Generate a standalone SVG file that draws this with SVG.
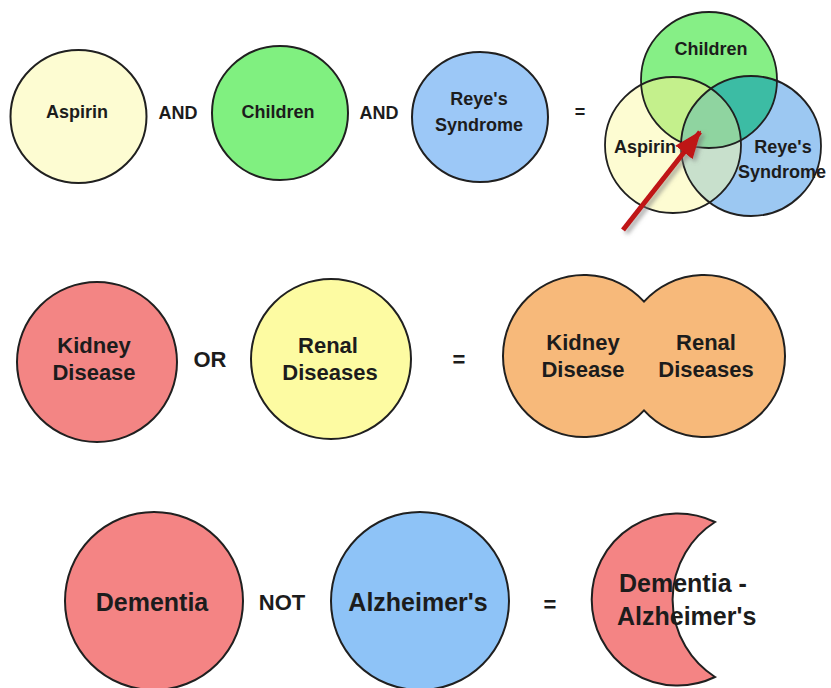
<svg xmlns="http://www.w3.org/2000/svg" width="831" height="688" viewBox="0 0 831 688">
<style>
  .lbl { font-family: "Liberation Sans", Arial, sans-serif; font-weight: bold; fill: #1c1c1c; text-anchor: middle; }
  .op { font-family: "Liberation Sans", Arial, sans-serif; font-weight: bold; fill: #1c1c1c; text-anchor: middle; }
  .ring { stroke: #202020; stroke-width: 2; }
  .edge { fill: none; stroke: #202020; stroke-width: 1.8; }
</style>
<defs>
  <clipPath id="clipA"><circle cx="673" cy="145" r="68"/></clipPath>
  <clipPath id="clipC"><circle cx="709" cy="80" r="68"/></clipPath>
  <marker id="redHead" markerUnits="userSpaceOnUse" markerWidth="30" markerHeight="24" refX="26" refY="11" orient="auto">
    <path d="M0,0 L28,11 L0,22 Z" fill="#bf1219"/>
  </marker>
  <filter id="shadow" x="-20%" y="-20%" width="140%" height="140%">
    <feDropShadow dx="3" dy="3" stdDeviation="2" flood-color="#777" flood-opacity="0.6"/>
  </filter>
</defs>
<rect width="831" height="688" fill="#ffffff"/>

<!-- Row 1 -->
<g id="aspirin">
  <ellipse cx="78.5" cy="116.5" rx="68" ry="66.5" fill="#fdfcd2" class="ring"/>
  <text x="77" y="118" class="lbl" font-size="18">Aspirin</text>
</g>
<g id="and1"><text x="178" y="119" class="op" font-size="18">AND</text></g>
<g id="children">
  <ellipse cx="280" cy="113" rx="68" ry="67" fill="#80f080" class="ring"/>
  <text x="278" y="118" class="lbl" font-size="18">Children</text>
</g>
<g id="and2"><text x="379" y="119" class="op" font-size="18">AND</text></g>
<g id="reyes">
  <ellipse cx="480" cy="117" rx="68" ry="65" fill="#9cc8f7" class="ring"/>
  <text x="479" y="105" class="lbl" font-size="18">Reye's</text>
  <text x="479" y="131" class="lbl" font-size="18">Syndrome</text>
</g>
<g id="eq1"><text x="580" y="118" class="op" font-size="18">=</text></g>

<g id="venn-and">
  <circle cx="673" cy="145" r="68" fill="#fdfcd2"/>
  <circle cx="751" cy="146" r="70" fill="#9cc8f2"/>
  <circle cx="709" cy="80" r="68" fill="#86ef86"/>
  <circle cx="709" cy="80" r="68" fill="#c4f08c" clip-path="url(#clipA)"/>
  <circle cx="751" cy="146" r="70" fill="#c8e0cc" clip-path="url(#clipA)"/>
  <circle cx="751" cy="146" r="70" fill="#3cbca4" clip-path="url(#clipC)"/>
  <g clip-path="url(#clipA)">
    <circle cx="751" cy="146" r="70" fill="#8fd4a0" clip-path="url(#clipC)"/>
  </g>
  <circle cx="673" cy="145" r="68" class="edge"/>
  <circle cx="751" cy="146" r="70" class="edge"/>
  <circle cx="709" cy="80" r="68" class="edge"/>
  <text x="711" y="55" class="lbl" font-size="18">Children</text>
  <text x="645" y="153" class="lbl" font-size="18">Aspirin</text>
  <text x="783" y="153" class="lbl" font-size="18">Reye's</text>
  <text x="782" y="178" class="lbl" font-size="18">Syndrome</text>
</g>

<!-- Row 2 -->
<g id="kidney">
  <circle cx="97" cy="362" r="80" fill="#f38584" class="ring"/>
  <text x="94" y="353" class="lbl" font-size="22">Kidney</text>
  <text x="94" y="380" class="lbl" font-size="22">Disease</text>
</g>
<g id="or"><text x="210" y="367" class="op" font-size="22">OR</text></g>
<g id="renal">
  <circle cx="331" cy="359" r="80" fill="#fdfba2" class="ring"/>
  <text x="328" y="353" class="lbl" font-size="22">Renal</text>
  <text x="330" y="380" class="lbl" font-size="22">Diseases</text>
</g>
<g id="eq2"><text x="459" y="367" class="op" font-size="22">=</text></g>
<g id="union">
  <path d="M644,301.6 A81,81 0 1 0 644,410.4 A81,81 0 1 0 644,301.6 Z" fill="#f7b97a" class="ring"/>
  <text x="583" y="350" class="lbl" font-size="22">Kidney</text>
  <text x="583" y="377" class="lbl" font-size="22">Disease</text>
  <text x="706" y="350" class="lbl" font-size="22">Renal</text>
  <text x="706" y="377" class="lbl" font-size="22">Diseases</text>
</g>

<!-- Row 3 -->
<g id="dementia">
  <circle cx="154" cy="601" r="89" fill="#f48484" class="ring"/>
  <text x="152" y="611" class="lbl" font-size="25">Dementia</text>
</g>
<g id="not"><text x="282" y="610" class="op" font-size="22">NOT</text></g>
<g id="alzheimers">
  <circle cx="420" cy="601" r="89" fill="#8ec3f7" class="ring"/>
  <text x="418" y="611" class="lbl" font-size="25">Alzheimer's</text>
</g>
<g id="eq3"><text x="550" y="612" class="op" font-size="22">=</text></g>
<g id="difference">
  <path d="M715,522 A86,86 0 1 0 715,677 A92,92 0 0 1 715,522 Z" fill="#f48484" class="ring"/>
  <text x="619" y="592" class="lbl" font-size="25" style="text-anchor:start">Dementia -</text>
  <text x="617" y="625" class="lbl" font-size="25" style="text-anchor:start">Alzheimer's</text>
</g>

<!-- Connectors -->
<g id="connectors">
  <line x1="623" y1="230" x2="700" y2="132" stroke="#bf1219" stroke-width="5" marker-end="url(#redHead)" filter="url(#shadow)"/>
</g>
</svg>
